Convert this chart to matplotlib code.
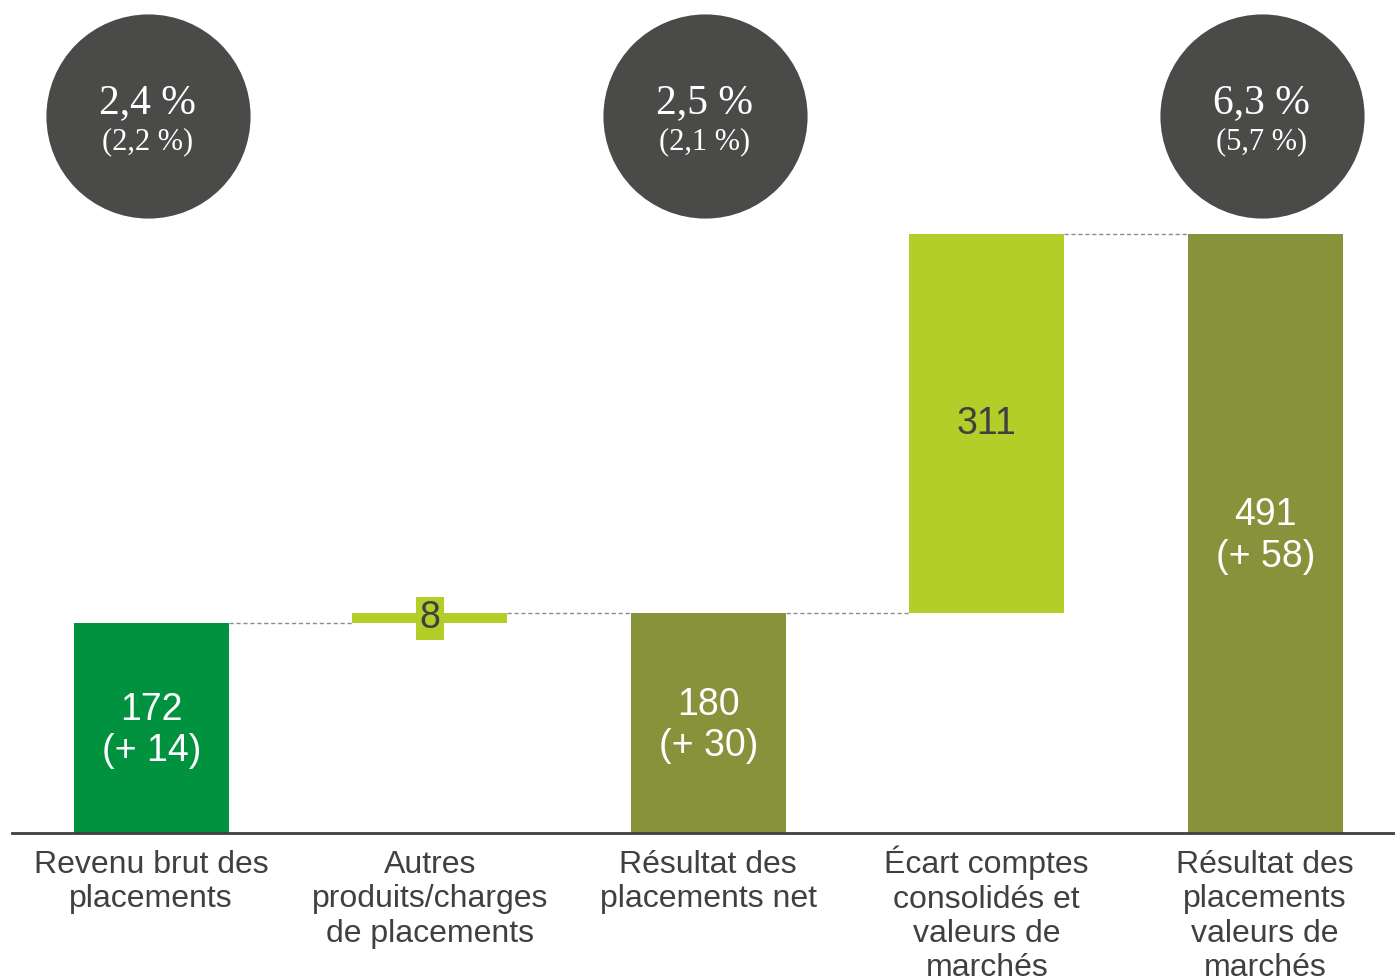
import matplotlib.pyplot as plt

categories = ['Revenu brut des\nplacements',
              'Autres\nproduits/charges\nde placements',
              'Résultat des\nplacements net',
              'Écart comptes\nconsolidés et\nvaleurs de\nmarchés',
              'Résultat des\nplacements\nvaleurs de\nmarchés']
values = [172, 8, 180, 311, 491]
is_total = [True, False, True, False, True]
deltas = ['(+ 14)', None, '(+ 30)', None, '(+ 58)']
rate_pos = [0, 2, 4]
rates = ['2,4 %', '2,5 %', '6,3 %']
prev_rates = ['(2,2 %)', '(2,1 %)', '(5,7 %)']

GREEN = '#00923f'
LIGHT = '#b3cd29'
OLIVE = '#88923a'
DARK = '#404040'
colors = [GREEN, LIGHT, OLIVE, LIGHT, OLIVE]

# bottoms of the waterfall
bottoms = []
running = 0
for v, tot in zip(values, is_total):
    if tot:
        bottoms.append(0)
        running = v
    else:
        bottoms.append(running)
        running += v
tops = [b + v for b, v in zip(bottoms, values)]

px = 1.22  # pixels per unit
fig = plt.figure(figsize=(13.95, 9.77), dpi=100)
ax = fig.add_axes([12 / 1395, 144 / 977, 1 - 12 / 1395, 833 / 977])
xmax = 4.466
ax.set_xlim(-0.5, xmax)
ax.set_ylim(0, 833 / px)
ax.axis('off')

w = 0.557
x = list(range(len(values)))
ax.bar(x, values, bottom=bottoms, width=w, color=colors, zorder=2)

# baseline
ax.plot([-0.5, xmax], [0, 0], color=DARK, lw=2, zorder=3, clip_on=False)

# connectors
for i in range(len(values) - 1):
    ax.plot([i + w / 2, i + 1 - w / 2], [tops[i], tops[i]],
            ls=(0, (3, 2)), color='#8c8c8c', lw=1, zorder=1)

# bar labels
for i, v in enumerate(values):
    yc = bottoms[i] + v / 2
    if is_total[i]:
        ax.text(i, yc - 2, '%d\n%s' % (v, deltas[i]), ha='center', va='center',
                color='white', fontsize=27, family='Liberation Sans',
                linespacing=1.2, zorder=4)
    elif v < 30:
        ax.text(i, yc, str(v), ha='center', va='center', color=DARK,
                fontsize=27, family='Liberation Sans', zorder=4,
                bbox=dict(boxstyle='square,pad=0.1', fc=LIGHT, ec='none'))
    else:
        ax.text(i, yc, str(v), ha='center', va='center', color=DARK,
                fontsize=27, family='Liberation Sans', zorder=4)

# category labels, one line at a time so baselines line up
for i, c in enumerate(categories):
    for j, line in enumerate(c.split('\n')):
        ax.text(i, -(40 + j * 34.5) / px, line, ha='center', va='baseline',
                color=DARK, fontsize=23, family='Liberation Sans',
                clip_on=False)

# rate circles
cy = (833 - 116) / px
for p, r, pr in zip(rate_pos, rates, prev_rates):
    ax.plot(p - 0.012, cy, 'o', ms=147, color='#4a4a48', mec='none',
            clip_on=False, zorder=5)
    ax.text(p - 0.012, cy + 11, r, ha='center', va='center', color='white',
            fontsize=30, family='Liberation Serif', zorder=6)
    ax.text(p - 0.012, cy - 21, pr, ha='center', va='center', color='white',
            fontsize=22, family='Liberation Serif', zorder=6)

fig.savefig('out.png', dpi=100, facecolor='white')
